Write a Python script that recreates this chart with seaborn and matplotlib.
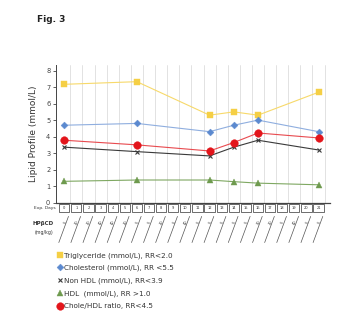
import matplotlib
matplotlib.use("Agg")
import matplotlib.pyplot as plt
import matplotlib.transforms as mtransforms
from matplotlib.patches import Rectangle
from matplotlib.lines import Line2D
import seaborn as sns
import pandas as pd

sns.set_style("white")
plt.rcParams['font.family'] = ['DejaVu Sans']

# ---- data ----
days = [0, 6, 12, 14, 16, 21]
triglyceride = [7.17, 7.33, 5.3, 5.5, 5.3, 6.69]
cholesterol = [4.69, 4.8, 4.3, 4.69, 5.0, 4.3]
non_hdl = [3.36, 3.09, 2.83, 3.36, 3.78, 3.19]
hdl = [1.29, 1.37, 1.37, 1.27, 1.18, 1.08]
chole_hdl = [3.78, 3.5, 3.13, 3.64, 4.22, 3.92]

series_names = ["Triglyceride (mmol/L), RR<2.0",
                "Cholesterol (mmol/L), RR <5.5",
                "Non HDL (mmol/L), RR<3.9",
                "HDL  (mmol/L), RR >1.0",
                "Chole/HDL ratio, RR<4.5"]
series_values = [triglyceride, cholesterol, non_hdl, hdl, chole_hdl]
series_colors = ["#F5CF45", "#5B89CF", "#3a3a3a", "#6E9A4E", "#E3151B"]
line_colors = ["#F7D96A", "#8FAEDF", "#3a3a3a", "#7FA862", "#E84A4F"]
series_markers = ["s", "D", "x", "^", "o"]
marker_sizes = [5, 3.5, 3.5, 4, 5.5]

exp_days = list(range(22))
hpbcd_doses = ["5", "20", "20", "40", "40", "20", "5", "5", "20", "5", "40",
               "5", "5", "5", "5", "5", "30", "20", "5", "40", "5", "5"]
y_ticks = [0, 1, 2, 3, 4, 5, 6, 7, 8]

fig = plt.figure(figsize=(3.45, 3.36), dpi=100)
ax = fig.add_axes([0.162, 0.397, 0.795, 0.41])

for name, vals, c, lc, m, ms in zip(series_names, series_values, series_colors,
                                    line_colors, series_markers, marker_sizes):
    df = pd.DataFrame({"day": days, "value": vals})
    sns.lineplot(data=df, x="day", y="value", ax=ax, color=lc, linewidth=0.8,
                 marker=m, markersize=ms, markerfacecolor=c,
                 markeredgecolor=c, markeredgewidth=0.8 if m == "x" else 0.3,
                 label=name, legend=False)

ax.set_xlim(-0.69, 21.96)
ax.set_ylim(0, 8.35)
ax.set_yticks(y_ticks)
ax.set_yticklabels([str(t) for t in y_ticks], fontsize=4.8, color="#444444")
ax.set_xticks([])
ax.set_xlabel("")
ax.set_ylabel("Lipid Profile (mmol/L)", fontsize=6.5, color="#333333", labelpad=6)
ax.tick_params(axis="y", length=2, width=0.6, pad=2, left=True, color="#444444")
for s in ["top", "right"]:
    ax.spines[s].set_visible(False)
ax.spines["left"].set_color("#444444")
ax.spines["left"].set_linewidth(0.7)
ax.spines["bottom"].set_color("#444444")
ax.spines["bottom"].set_linewidth(0.9)

# vertical grid lines between days
for d in exp_days:
    ax.axvline(d + 0.5, color="#DDDDDD", linewidth=0.6, zorder=0)

trans = mtransforms.blended_transform_factory(ax.transData, ax.transAxes)
# Exp. Days boxes
box_top = -0.01
box_h = -0.055
for d in exp_days:
    ax.add_patch(Rectangle((d - 0.42, box_top + box_h), 0.84, -box_h,
                           transform=trans, fill=False, edgecolor="#333333",
                           linewidth=0.5, clip_on=False))
    ax.text(d, box_top + box_h / 2, str(d), transform=trans, fontsize=2.6,
            ha="center", va="center", color="#333333")
ax.text(-0.75, box_top + box_h / 2, "Exp. Days", transform=trans, fontsize=3.2,
        ha="right", va="center", color="#333333")

# HPBCD row
for d, dose in zip(exp_days, hpbcd_doses):
    ax.add_line(Line2D([d - 0.45, d + 0.35], [-0.29, -0.1], transform=trans,
                       color="#555555", linewidth=0.5, clip_on=False))
    ax.text(d + 0.05, -0.145, dose, transform=trans, fontsize=2.6, rotation=65,
            ha="center", va="center", color="#333333")
ax.text(-0.9, -0.155, "HPβCD", transform=trans, fontsize=4, ha="right",
        va="center", color="#333333", fontweight="bold")
ax.text(-0.9, -0.215, "(mg/kg)", transform=trans, fontsize=3.4, ha="right",
        va="center", color="#333333")

fig.text(0.107, 0.935, "Fig. 3", fontsize=6.5, fontweight="bold", color="#222222")

handles, labels = ax.get_legend_handles_labels()
leg = fig.legend(handles, labels, loc="upper left", bbox_to_anchor=(0.16, 0.258),
                 frameon=False, fontsize=5.2, handlelength=0.4, handletextpad=0.45,
                 labelspacing=0.85, borderaxespad=0)
for t in leg.get_texts():
    t.set_color("#333333")
for h in leg.legend_handles:
    h.set_linestyle("None")

fig.savefig("out.png", dpi=100)
